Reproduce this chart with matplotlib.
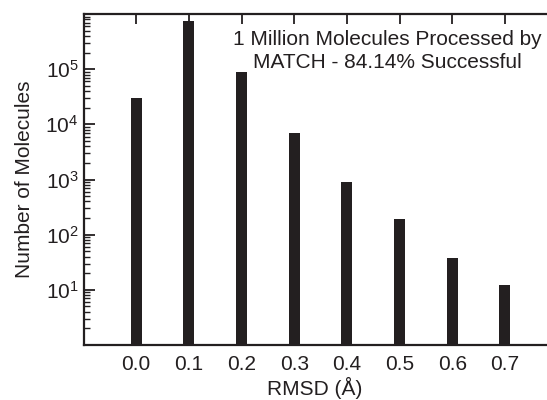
import matplotlib
matplotlib.use("Agg")
import matplotlib.pyplot as plt
from matplotlib.ticker import LogLocator, NullFormatter, FixedLocator

plt.rcParams['font.family'] = ['Liberation Sans', 'DejaVu Sans']
plt.rcParams['mathtext.fontset'] = 'custom'
plt.rcParams['mathtext.rm'] = 'Liberation Sans'
plt.rcParams['mathtext.it'] = 'Liberation Sans:italic'
plt.rcParams['mathtext.bf'] = 'Liberation Sans:bold'

rmsd = [0.0, 0.1, 0.2, 0.3, 0.4, 0.5, 0.6, 0.7]
counts = [30000, 750000, 90000, 7000, 900, 190, 38, 12.4]
tick_labels = ["0.0", "0.1", "0.2", "0.3", "0.4", "0.5", "0.6", "0.7"]
major_y = [10, 100, 1000, 10000, 100000]

fig = plt.figure(figsize=(5.47, 4.0), dpi=100)
ax = fig.add_axes([84/547, 1-345/400, (546-84)/547, (345-14)/400])

ax.bar(rmsd, counts, width=0.021, color='#231f20', zorder=2)
ax.set_yscale('log')
ax.set_ylim(1, 1e6)
ax.set_xlim(-0.099, 0.778)

ax.yaxis.set_major_locator(FixedLocator(major_y))
ax.yaxis.set_minor_locator(LogLocator(base=10, subs=range(2, 10), numticks=20))
ax.yaxis.set_minor_formatter(NullFormatter())
ax.set_xticks(rmsd)
ax.set_xticklabels(tick_labels)

ax.spines['right'].set_visible(False)
for s in ['left', 'bottom', 'top']:
    ax.spines[s].set_linewidth(1.6)
    ax.spines[s].set_color('#231f20')

ax.tick_params(axis='x', which='both', top=True, bottom=False, labelbottom=True,
               direction='in', length=7, width=1.3, color='#231f20',
               labelsize=15, pad=7, labelcolor='#231f20')
ax.tick_params(axis='y', which='major', direction='in', length=8, width=1.3,
               color='#231f20', labelsize=15, pad=4, labelcolor='#231f20')
ax.tick_params(axis='y', which='minor', direction='in', length=4.5, width=1.0,
               color='#231f20')

ax.set_xlabel("RMSD (Å)", fontsize=15, color='#231f20', labelpad=2)
ax.set_ylabel("Number of Molecules", fontsize=15, color='#231f20', labelpad=8)

ax.text(387/547, 1-51/400, "1 Million Molecules Processed by\nMATCH - 84.14% Successful",
        transform=fig.transFigure, ha='center', va='center', fontsize=15,
        color='#231f20', linespacing=1.3)

fig.savefig("out.png", dpi=100)
